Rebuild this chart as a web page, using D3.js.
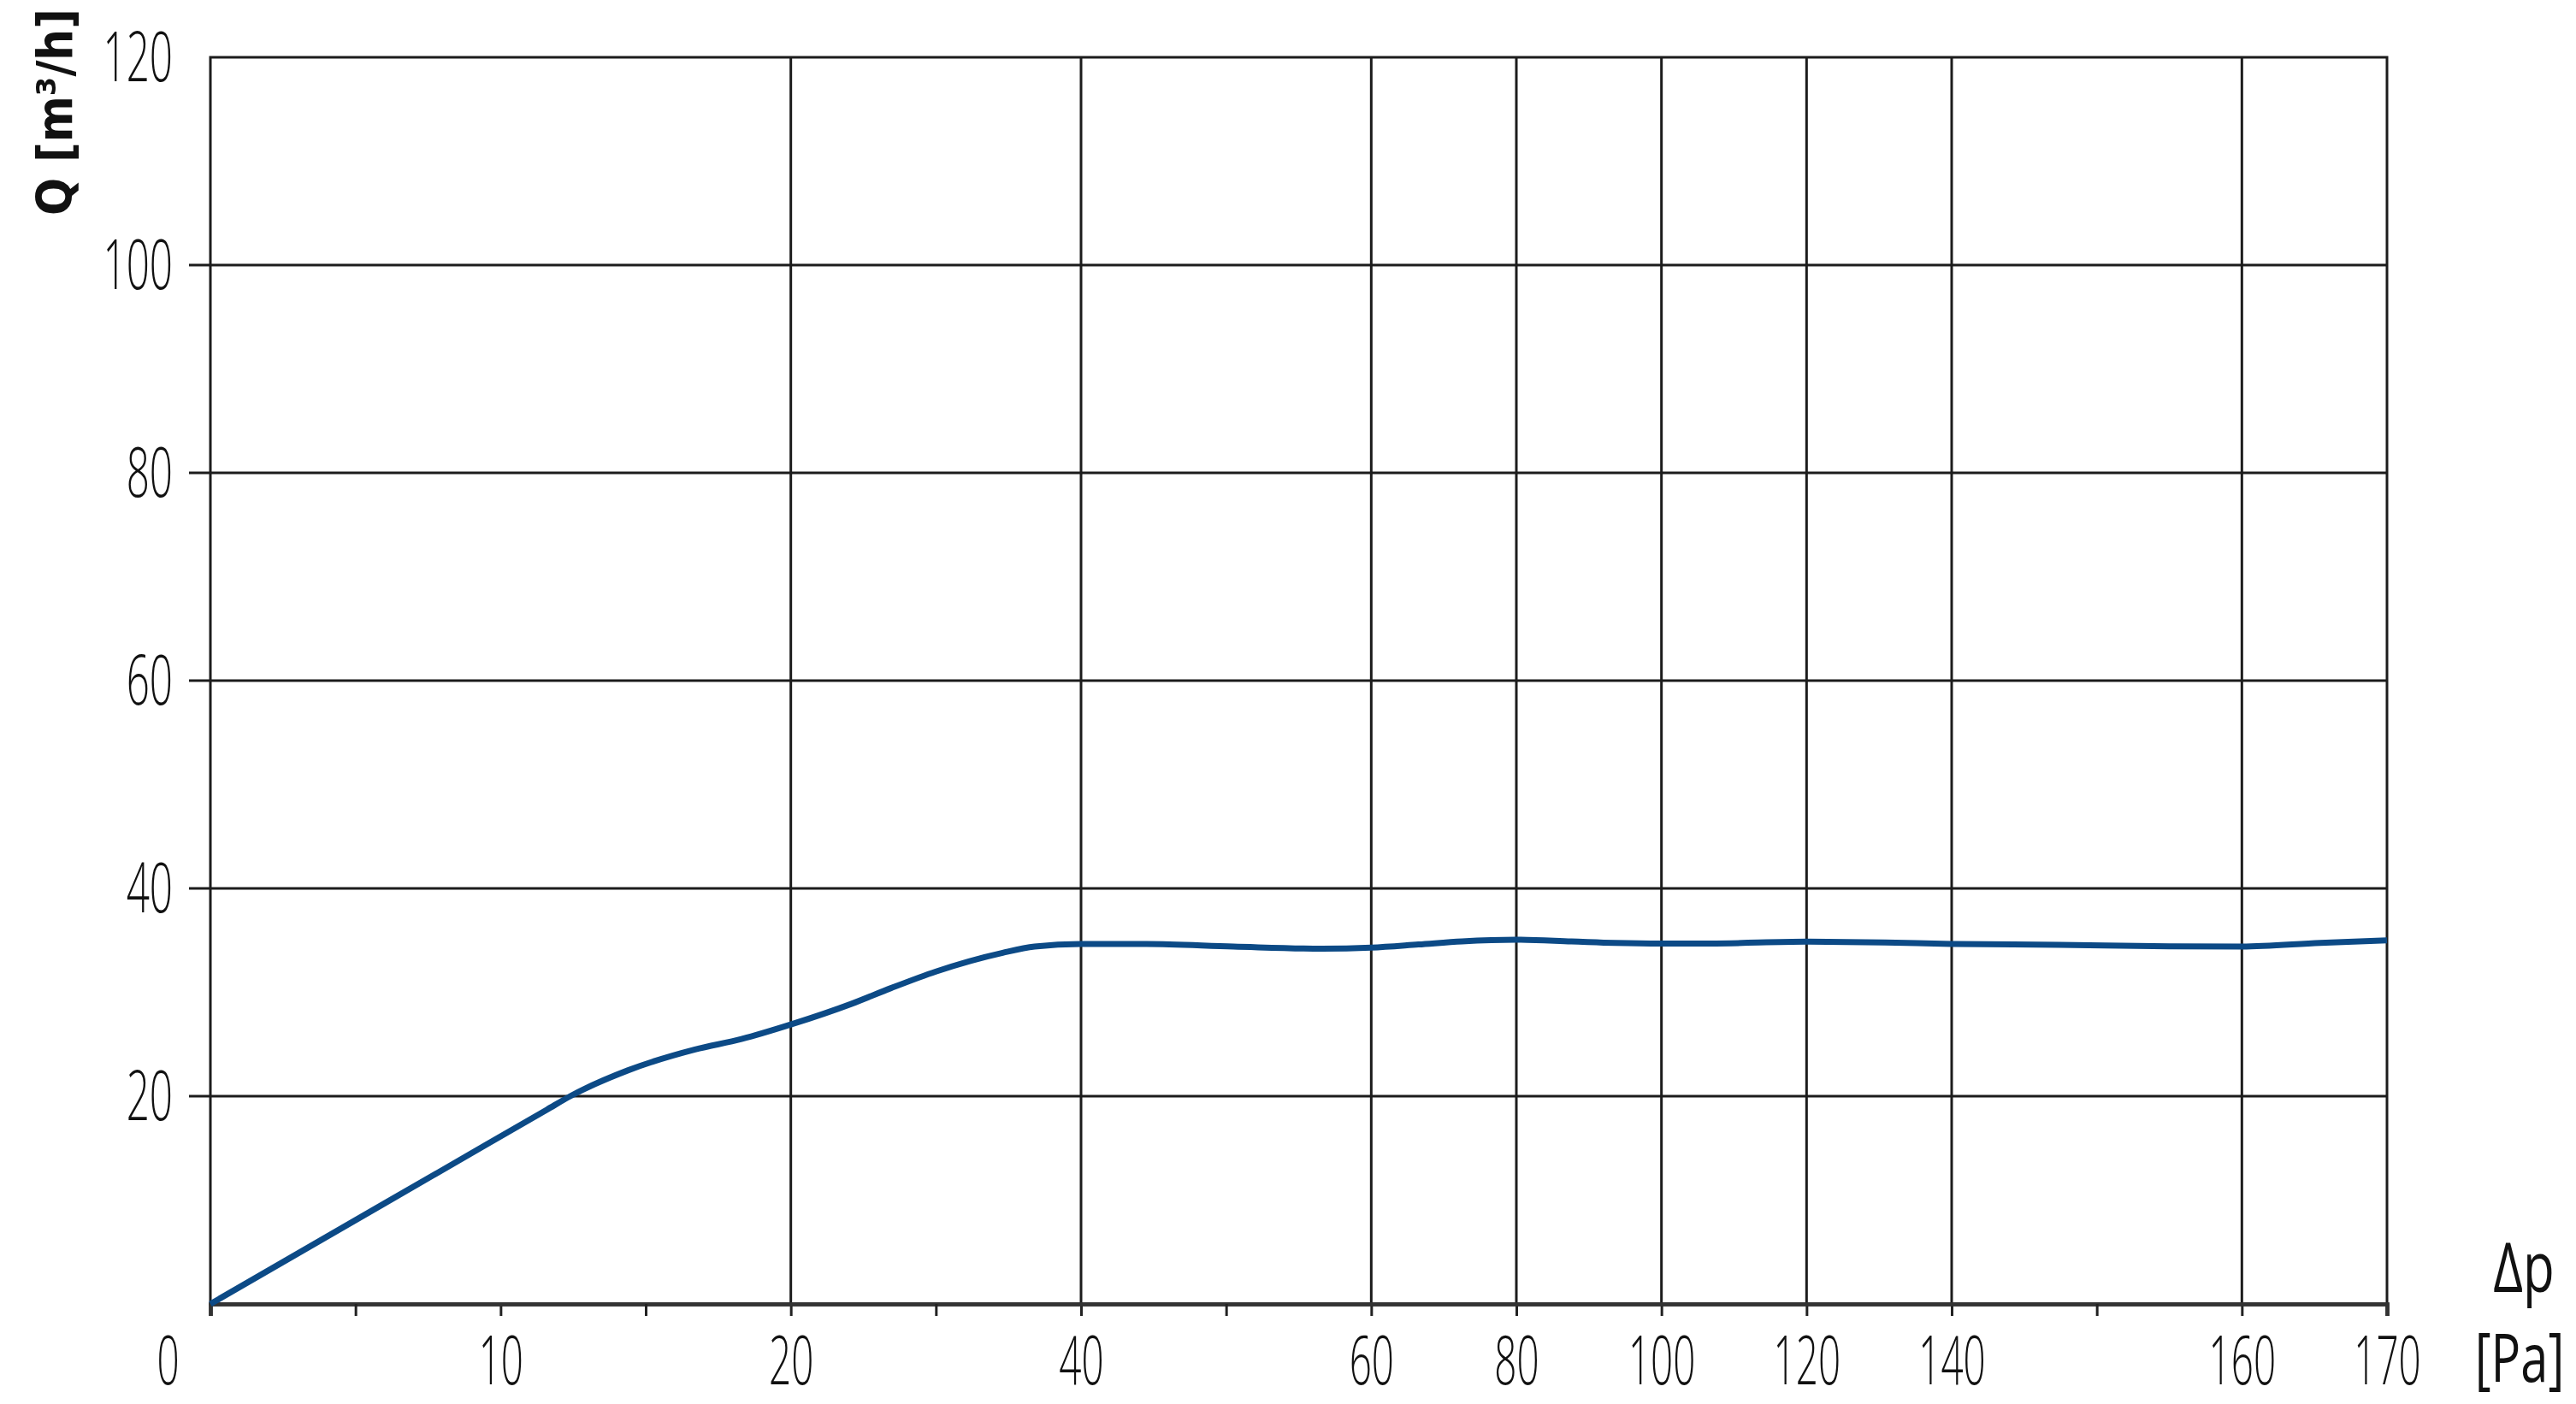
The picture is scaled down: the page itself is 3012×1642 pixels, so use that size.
<!DOCTYPE html>
<html>
<head>
<meta charset="utf-8">
<script src="https://cdn.jsdelivr.net/npm/d3@7"></script>
<style>
  body { margin: 0; background: #fff; }
  svg { display: block; }
</style>
</head>
<body>
<script>
// pressure difference [Pa] vs air flow [m3/h]
const xLabels = [0, 10, 20, 40, 60, 80, 100, 120, 140, 160, 170];
const xMinor = [5, 15, 30, 50, 150];
const xGrid = [20, 40, 60, 80, 100, 120, 140, 160];
const yLabels = [20, 40, 60, 80, 100, 120];
const yGrid = [20, 40, 60, 80, 100];

const dp = [0, 6, 11.6, 12.4, 14.4, 16.7, 18.3, 20, 24.2, 26.9, 30, 34.6, 36.8, 40, 44.5, 50.5, 56.6, 60,
            66.5, 72.5, 80, 87.6, 93.6, 100, 106.7, 120, 130.8, 140, 147.4, 155, 160, 165.4, 170];
const flow = [0, 9.68, 18.71, 20, 22.5, 24.5, 25.5, 26.9, 28.9, 30.4, 32.0, 33.8, 34.4, 34.65, 34.65, 34.4, 34.2, 34.3,
              34.6, 34.9, 35.06, 34.9, 34.76, 34.7, 34.7, 34.87, 34.8, 34.65, 34.57, 34.43, 34.4, 34.75, 35.0];

const margin = {top: 67, right: 221, bottom: 117, left: 246},
    width = 3012 - margin.left - margin.right,
    height = 1642 - margin.top - margin.bottom;

const FONT = '"Open Sans", "Liberation Sans", sans-serif';
const sx = 0.58; // squeeze for the condensed look

const svg = d3.select('body').append('svg')
    .attr('width', 3012)
    .attr('height', 1642);
const g = svg.append('g')
    .attr('transform', `translate(${margin.left}, ${margin.top})`);

// the x scale is not uniform, the sheet spaces the ticks in steps
const unit = width / 15;
const x = d3.scaleLinear()
    .domain(xLabels)
    .range([0, 2, 4, 6, 8, 9, 10, 11, 12, 14, 15].map(s => s * unit));
const y = d3.scaleLinear().domain([0, 120]).range([height, 0]);

// grid
g.selectAll('.hgrid')
    .data(yGrid)
    .enter()
    .append('line')
    .attr('class', 'hgrid')
    .attr('x1', -25).attr('x2', width)
    .attr('y1', d => y(d)).attr('y2', d => y(d))
    .attr('stroke', '#1c1c1c')
    .attr('stroke-width', 3);

g.selectAll('.vgrid')
    .data(xGrid)
    .enter()
    .append('line')
    .attr('class', 'vgrid')
    .attr('x1', d => x(d)).attr('x2', d => x(d))
    .attr('y1', 0).attr('y2', height)
    .attr('stroke', '#1c1c1c')
    .attr('stroke-width', 3);

// frame
g.append('rect')
    .attr('x', 0).attr('y', 0)
    .attr('width', width).attr('height', height)
    .attr('fill', 'none')
    .attr('stroke', '#1c1c1c')
    .attr('stroke-width', 3);

// bottom axis, labelled ticks
const xAxis = g.append('g')
    .attr('transform', `translate(0, ${height})`)
    .call(d3.axisBottom(x).tickValues(xLabels).tickSize(14).tickFormat(d3.format('d')));
const xAxisMinor = g.append('g')
    .attr('transform', `translate(0, ${height})`)
    .call(d3.axisBottom(x).tickValues(xMinor).tickSize(14).tickFormat(''));

[xAxis, xAxisMinor].forEach(a => {
    a.select('.domain').attr('stroke', '#333').attr('stroke-width', 4.5);
    a.selectAll('.tick line').attr('stroke', '#222').attr('stroke-width', 3);
});
xAxis.selectAll('.tick').filter(d => d === 0).select('line').remove();
xAxis.selectAll('.tick').filter(d => d === 170).select('line').attr('stroke', '#bbb');
xAxis.selectAll('text')
    .attr('font-family', FONT)
    .attr('font-weight', 300)
    .attr('font-size', 79)
    .attr('fill', '#111')
    .attr('y', 94).attr('dy', 0)
    .attr('x', d => d === 0 ? -50 / sx : 0)
    .attr('transform', `scale(${sx},1)`);

// left axis labels
const yAxis = g.append('g')
    .call(d3.axisLeft(y).tickValues(yLabels).tickSize(0).tickPadding(44));
yAxis.select('.domain').remove();
yAxis.selectAll('text')
    .attr('font-family', FONT)
    .attr('font-weight', 300)
    .attr('font-size', 82)
    .attr('fill', '#111')
    .attr('x', -44 / sx)
    .attr('dy', 27)
    .attr('transform', `scale(${sx},1)`);

// curve
const pts = dp.map((p, i) => ({p: p, q: flow[i]}));
g.append('path')
    .datum(pts)
    .attr('fill', 'none')
    .attr('stroke', '#0c4a86')
    .attr('stroke-width', 7)
    .attr('stroke-linejoin', 'round')
    .attr('d', d3.line()
        .x(d => x(d.p))
        .y(d => y(d.q))
        .curve(d3.curveMonotoneX));

// axis titles
const yTitle = svg.append('text')
    .attr('transform', `translate(84, 252) rotate(-90)`)
    .attr('font-family', '"Liberation Sans Narrow", "DejaVu Sans Condensed", sans-serif')
    .attr('font-weight', 700)
    .attr('font-size', 80)
    .attr('fill', '#111')
    .text('Q [m³/h]');
// keep it inside the top edge whatever narrow font got picked
const tLen = yTitle.node().getComputedTextLength();
if (tLen > 242) yTitle.attr('font-size', 80 * 242 / tLen);

svg.append('text')
    .attr('transform', `translate(2951, 1511) scale(0.75,1)`)
    .attr('text-anchor', 'middle')
    .attr('font-family', FONT)
    .attr('font-weight', 400)
    .attr('font-size', 80)
    .attr('fill', '#111')
    .text('Δp');

svg.append('text')
    .attr('transform', `translate(2946, 1616) scale(0.74,1)`)
    .attr('text-anchor', 'middle')
    .attr('font-family', FONT)
    .attr('font-weight', 400)
    .attr('font-size', 78)
    .attr('fill', '#111')
    .text('[Pa]');
</script>
</body>
</html>
